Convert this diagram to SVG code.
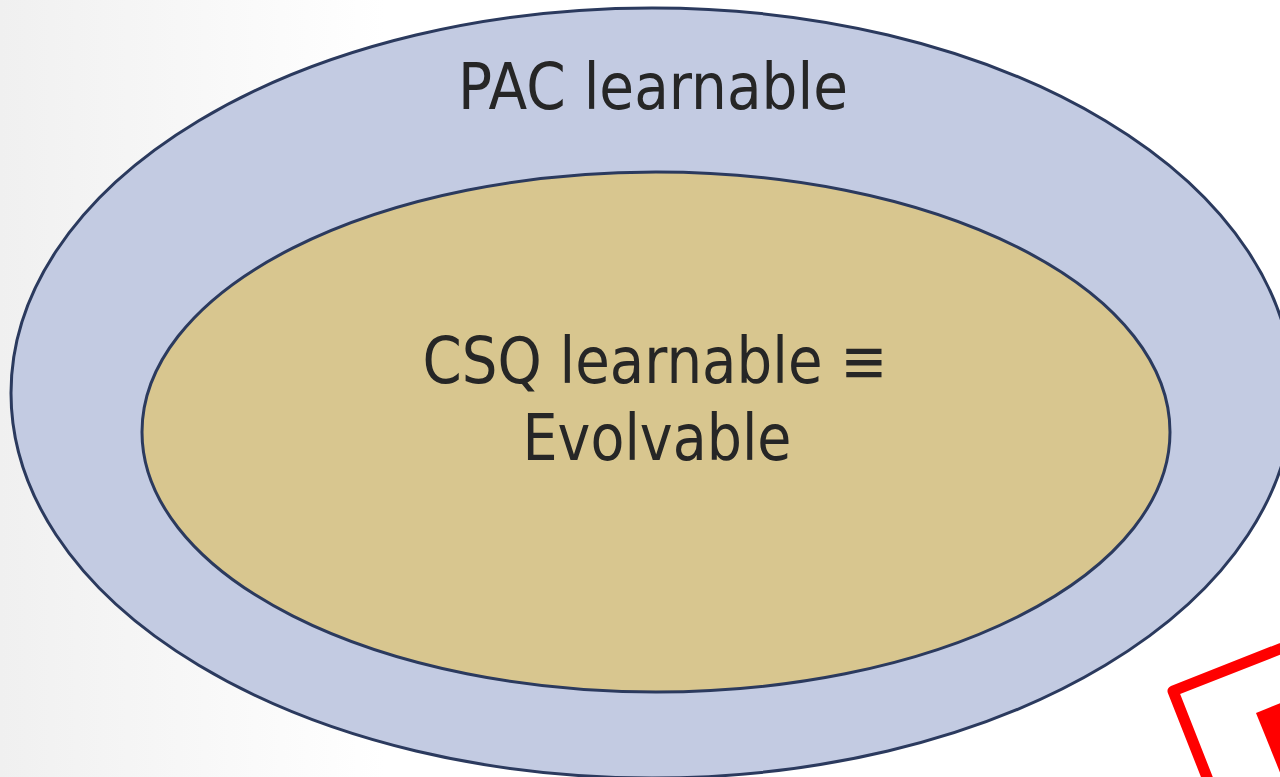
<svg xmlns="http://www.w3.org/2000/svg" width="1280" height="777" viewBox="0 0 1280 777">
  <defs>
    <linearGradient id="bg" x1="0" y1="0" x2="1" y2="0">
      <stop offset="0" stop-color="#f0f0f0"/>
      <stop offset="0.3" stop-color="#ffffff"/>
      <stop offset="1" stop-color="#ffffff"/>
    </linearGradient>
    <style>
      .ell { stroke: #2b3a5e; stroke-width: 3; }
      .lbl { font-family: "DejaVu Sans", "Liberation Sans", sans-serif; font-size: 64px; fill: #262626; text-anchor: middle; }
    </style>
  </defs>
  <rect x="0" y="0" width="1280" height="777" fill="url(#bg)"/>
  <g id="pac">
    <ellipse class="ell" cx="652" cy="393" rx="641" ry="385" fill="#c3cbe2"/>
    <text class="lbl" x="653" y="109" textLength="390" lengthAdjust="spacingAndGlyphs">PAC learnable</text>
  </g>
  <g id="csq">
    <ellipse class="ell" cx="656" cy="432" rx="514" ry="260" fill="#d8c68f"/>
    <text class="lbl"><tspan x="655" y="383" textLength="465" lengthAdjust="spacingAndGlyphs">CSQ learnable ≡</tspan><tspan x="657" y="460" textLength="269" lengthAdjust="spacingAndGlyphs">Evolvable</tspan></text>
  </g>
  <g id="connectors"/>
  <g id="stamp">
    <rect x="0" y="0" width="320" height="320" fill="none" stroke="#ff0000" stroke-width="11" stroke-linejoin="round" transform="translate(1173,691) rotate(-21.5)"/>
    <rect x="0" y="0" width="220" height="220" fill="#ff0000" transform="translate(1256,713) rotate(-22)"/>
  </g>
</svg>
